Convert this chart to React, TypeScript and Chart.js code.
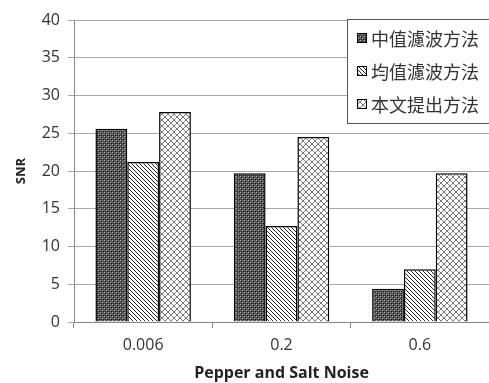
import React, { useEffect, useRef } from "react";
import { Chart, registerables } from "chart.js";

Chart.register(...registerables);

const categories = ["0.006", "0.2", "0.6"];
const seriesNames = ["中值濾波方法", "均值濾波方法", "本文提出方法"];
const medianValues = [25.6, 19.7, 4.4];
const meanValues = [21.2, 12.7, 7.0];
const proposedValues = [27.8, 24.5, 19.7];
const yTicks = [0, 5, 10, 15, 20, 25, 30, 35, 40];

function makePattern(kind: number): CanvasPattern | string {
  const c = document.createElement("canvas");
  const s = kind === 2 ? 6 : 4;
  c.width = s;
  c.height = s;
  const g = c.getContext("2d")!;
  if (kind === 0) {
    g.fillStyle = "#5a5a5a";
    g.fillRect(0, 0, s, s);
    g.fillStyle = "#b0b0b0";
    g.fillRect(0, 0, 1, 1);
    g.fillRect(2, 2, 1, 1);
    g.fillStyle = "#1a1a1a";
    g.fillRect(1, 1, 1, 1);
    g.fillRect(3, 3, 1, 1);
    g.fillRect(1, 3, 1, 1);
  } else if (kind === 1) {
    g.fillStyle = "#ffffff";
    g.fillRect(0, 0, s, s);
    g.fillStyle = "#222";
    for (let i = 0; i < s; i++) g.fillRect(i, i, 1, 1);
  } else {
    g.fillStyle = "#ffffff";
    g.fillRect(0, 0, s, s);
    g.fillStyle = "#7a7a7a";
    for (let i = 0; i < s; i++) {
      g.fillRect(i, i, 1, 1);
      g.fillRect(s - 1 - i, i, 1, 1);
    }
  }
  const p = g.createPattern(c, "repeat");
  return p || "#888";
}

export default function App() {
  const ref = useRef<HTMLCanvasElement>(null);
  useEffect(() => {
    document.body.style.margin = "0";
    const ctx = ref.current!.getContext("2d")!;
    const pats = [makePattern(0), makePattern(1), makePattern(2)];
    const legendPlugin = {
      id: "boxLegend",
      afterDraw(chart: any) {
        const c = chart.ctx;
        c.save();
        const x0 = 347.5, y0 = 19.5, w = 160, h = 104;
        c.fillStyle = "#fff";
        c.fillRect(x0, y0, w, h);
        c.strokeStyle = "#555";
        c.lineWidth = 1;
        c.strokeRect(x0, y0, w, h);
        c.font = '18px "Noto Sans CJK TC", "Noto Sans CJK SC", sans-serif';
        c.textBaseline = "middle";
        const rows = [38, 71, 104];
        seriesNames.forEach((n, i) => {
          c.fillStyle = pats[i];
          c.fillRect(357, rows[i] - 5, 10, 10);
          c.strokeStyle = "#000";
          c.strokeRect(357.5, rows[i] - 4.5, 9, 9);
          c.fillStyle = "#333";
          c.fillText(n, 371, rows[i] + 1);
        });
        c.restore();
      },
    };
    const font = { family: '"Open Sans", "Liberation Sans", sans-serif', size: 16 };
    const chart = new Chart(ctx, {
      type: "bar",
      data: {
        labels: categories,
        datasets: [medianValues, meanValues, proposedValues].map((d, i) => ({
          label: seriesNames[i],
          data: d,
          backgroundColor: pats[i] as any,
          borderColor: "#000",
          borderWidth: 1.5,
          categoryPercentage: 0.69,
          barPercentage: 1,
        })),
      },
      options: {
        responsive: false,
        animation: false,
        layout: { padding: { top: 20, right: 0, left: 0, bottom: 0 } },
        plugins: { legend: { display: false }, tooltip: { enabled: false } },
        scales: {
          x: {
            grid: { display: true, drawOnChartArea: false, drawTicks: true, tickLength: 6, color: "#888", offset: true },
            border: { color: "#888" },
            ticks: { color: "#333", font, padding: 8 },
            title: {
              display: true,
              text: "Pepper and Salt Noise",
              color: "#222",
              font: { ...font, size: 16, weight: "bold" },
              padding: { top: 0, bottom: 0 },
            },
            afterFit: (s: any) => {
              s.height = 61;
            },
          },
          y: {
            min: 0,
            max: 40,
            afterBuildTicks: (s: any) => {
              s.ticks = yTicks.map((v) => ({ value: v }));
            },
            grid: { color: "#a8a8a8", tickLength: 6, drawTicks: true },
            border: { color: "#888" },
            ticks: { color: "#333", font, padding: 8 },
            title: {
              display: true,
              text: "SNR",
              color: "#222",
              font: { ...font, size: 13, weight: "bold" },
              padding: { top: 13, bottom: 0 },
            },
            afterFit: (s: any) => {
              s.width = 74;
            },
          },
        },
      },
      plugins: [legendPlugin],
    });
    return () => chart.destroy();
  }, []);
  return (
    <div style={{ width: 489, height: 383, background: "#fff" }}>
      <canvas ref={ref} width={489} height={383} />
    </div>
  );
}
